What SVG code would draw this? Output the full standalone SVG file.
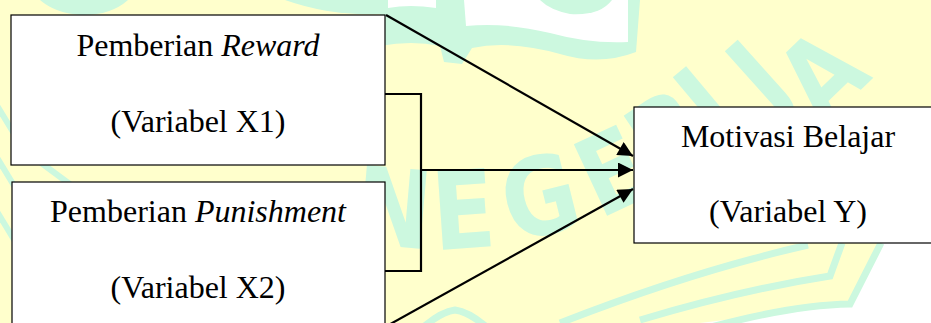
<svg xmlns="http://www.w3.org/2000/svg" width="931" height="323" viewBox="0 0 931 323">
  <style>
    .node rect { fill: #ffffff; stroke: #000000; stroke-width: 1.2; }
    .label { font-family: "Liberation Serif", "Times New Roman", serif; font-size: 32px; fill: #000000; text-anchor: middle; }
    .it { font-style: italic; }
    .conn { fill: none; stroke: #000000; stroke-width: 2.2; }
    .wm { fill: #ccf8df; }
    .wmline { fill: none; stroke: #ccf8df; }
    .wmtext { font-family: "DejaVu Sans", "Liberation Sans", sans-serif; font-weight: bold; font-size: 108px; fill: #ccf8df; text-anchor: middle; }
  </style>
  <defs>
    <marker id="arrow" viewBox="0 0 10 10" refX="10" refY="5" markerWidth="16" markerHeight="15" markerUnits="userSpaceOnUse" orient="auto">
      <path d="M0,0 L10,5 L0,10 Z" fill="#000000"/>
    </marker>
  </defs>

  <g id="background">
    <rect x="0" y="0" width="931" height="323" fill="#ffffcc"/>
    <path d="M880,243 L931,243 L931,323 L700,323 L850,305 Z" fill="#ffffff"/>
    <path class="wm" d="M380,0 L640,0 L636,52 Q600,66 560,54 Q510,40 472,48 L462,64 L444,62 L440,46 Q412,40 380,46 Z"/>
    <path d="M464,0 L628,0 L628,42 Q590,44 550,33 Q505,22 466,26 Z" fill="#ffffff"/>
    <path class="wm" d="M540,0 L612,0 Q600,16 570,14 Q550,10 540,0 Z"/>
    <path d="M388,0 L436,0 L436,8 Q410,4 388,8 Z" fill="#ffffff"/>
    <path class="wm" d="M40,0 L128,0 Q110,16 80,15 Q55,13 40,0 Z"/>
    <path class="wm" d="M285,0 L380,0 L380,14 Q330,16 285,0 Z"/>
    <path class="wmline" stroke-width="7" d="M560,323 Q690,272 808,245"/>
    <path class="wmline" stroke-width="7" d="M640,320 Q740,290 830,276 L842,243"/>
    <path class="wmline" stroke-width="7" d="M700,330 Q790,305 850,304 L881,243"/>
    <path class="wmline" stroke-width="7" d="M420,330 Q440,312 455,310 Q470,312 490,330"/>
    <path class="wmline" stroke-width="6" d="M-4,104 L30,160"/>
    <path class="wmline" stroke-width="6" d="M-4,156 L30,212"/>
    <path class="wmline" stroke-width="6" d="M-4,210 L30,266"/>
    <path class="wmline" stroke-width="6" d="M40,162 L75,188"/>
    <text class="wmtext" transform="translate(390,246) rotate(5) scale(0.85,1)">N</text>
    <text class="wmtext" transform="translate(466,248) rotate(-4) scale(0.85,1)">E</text>
    <text class="wmtext" transform="translate(549,234) rotate(-14) scale(0.85,1)">G</text>
    <text class="wmtext" transform="translate(628,206) rotate(-25) scale(0.85,1)">E</text>
    <text class="wmtext" transform="translate(690,166) rotate(-34) scale(0.85,1)">R</text>
    <text class="wmtext" transform="translate(730,132) rotate(-40) scale(0.85,1)">I</text>
    <text class="wmtext" transform="translate(784,104) rotate(-42) scale(0.85,1)">J</text>
    <text class="wmtext" transform="translate(848,102) rotate(-44) scale(0.85,1)">A</text>
  </g>

  <g id="connectors">
    <path class="conn" d="M385,94 H421 V271 H385"/>
    <line class="conn" x1="386" y1="15" x2="633" y2="156" marker-end="url(#arrow)"/>
    <line class="conn" x1="421" y1="170" x2="633" y2="170" marker-end="url(#arrow)"/>
    <line class="conn" x1="385" y1="327" x2="633" y2="189" marker-end="url(#arrow)"/>
  </g>

  <g id="node-x1" class="node">
    <rect x="11" y="15" width="374" height="150"/>
    <text class="label" x="198" y="56">Pemberian <tspan class="it">Reward</tspan></text>
    <text class="label" x="198" y="132">(Variabel X1)</text>
  </g>

  <g id="node-x2" class="node">
    <rect x="12" y="182" width="373" height="160"/>
    <text class="label" x="198" y="222">Pemberian <tspan class="it">Punishment</tspan></text>
    <text class="label" x="198" y="298">(Variabel X2)</text>
  </g>

  <g id="node-y" class="node">
    <rect x="634" y="107" width="312" height="136"/>
    <text class="label" x="788" y="147">Motivasi Belajar</text>
    <text class="label" x="788" y="222">(Variabel Y)</text>
  </g>
</svg>
